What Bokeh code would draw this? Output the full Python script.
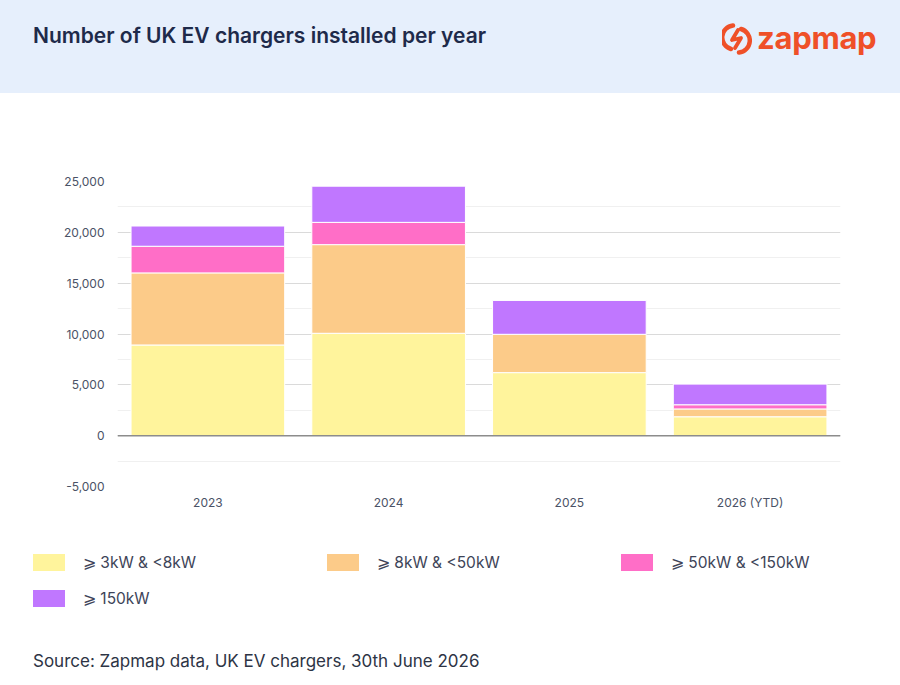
from bokeh.plotting import figure
from bokeh.layouts import column
from bokeh.models import (NumeralTickFormatter, FixedTicker, Span, ColumnDataSource,
                          FactorRange, Div)
from bokeh.embed import file_html
from bokeh.resources import INLINE

# ---- data ----
years = ["2023", "2024", "2025", "2026 (YTD)"]
kw3_8 = [8920, 10070, 6200, 1860]
kw8_50 = [7090, 8720, 3770, 770]
kw50_150 = [2620, 2190, -80, 410]
kw150 = [1990, 3560, 3330, 2030]
series_names = ["⩾ 3kW & <8kW", "⩾ 8kW & <50kW", "⩾ 50kW & <150kW", "⩾ 150kW"]
series_colors = ["#FFF49C", "#FCCB89", "#FF6EC7", "#C077FF"]
y_ticks = [-5000, 0, 5000, 10000, 15000, 20000, 25000]
y_minor = [-2500, 2500, 7500, 12500, 17500, 22500]

title_text = "Number of UK EV chargers installed per year"
source_text = "Source: Zapmap data, UK EV chargers, 30th June 2026"
FONT = "Inter"
W = 900


def esc(s):
    return s.replace("&", "&amp;").replace("<", "&lt;").replace(">", "&gt;")


# ---- header band ----
logo_svg = (
    '<svg width="30" height="36" viewBox="0 0 30 36" style="position:absolute;left:722px;top:21px">'
    '<path d="M11 4.5 A12 12 0 0 0 9 28" fill="none" stroke="#EF5028" stroke-width="4.5" stroke-linecap="round"/>'
    '<path d="M19 8 A12 12 0 0 1 17 31.5" fill="none" stroke="#EF5028" stroke-width="4.5" stroke-linecap="round"/>'
    '<path d="M16 9 L10 19 L19 17 L13 27" fill="none" stroke="#EF5028" stroke-width="3.8" '
    'stroke-linejoin="round" stroke-linecap="round"/>'
    '</svg>'
)
header_html = (
    f'<div style="position:relative;width:{W}px;height:93px;background:#E6EFFC;font-family:{FONT};">'
    f'<span style="position:absolute;left:33px;top:23px;font-size:21px;line-height:26px;font-weight:600;'
    f'color:#1E2A4A;white-space:nowrap;">{esc(title_text)}</span>'
    f'{logo_svg}'
    f'<span style="position:absolute;left:757px;top:20px;font-size:31px;line-height:36px;font-weight:700;'
    f'color:#EF5028;white-space:nowrap;letter-spacing:-0.3px;">zapmap</span>'
    '</div>'
)
header = Div(text=header_html, width=W, height=93, margin=0)

# ---- main chart ----
p = figure(width=W, height=432, x_range=FactorRange(*years, range_padding=0),
           y_range=(-5000, 25000), toolbar_location=None, output_backend="svg",
           min_border_top=88, min_border_bottom=39, min_border_left=117, min_border_right=60)
p.outline_line_color = None
p.background_fill_color = "white"
p.border_fill_color = "white"

series = [kw3_8, kw8_50, kw50_150, kw150]
pos_base = [0] * len(years)
neg_base = [0] * len(years)
for vals, name, col in zip(series, series_names, series_colors):
    bottoms, tops = [], []
    for i, v in enumerate(vals):
        if v >= 0:
            bottoms.append(pos_base[i]); tops.append(pos_base[i] + v); pos_base[i] += v
        else:
            tops.append(neg_base[i]); bottoms.append(neg_base[i] + v); neg_base[i] += v
    src = ColumnDataSource(dict(x=years, bottom=bottoms, top=tops))
    p.vbar(x="x", bottom="bottom", top="top", width=0.85, source=src,
           fill_color=col, line_color="white", line_width=1)

p.yaxis.ticker = FixedTicker(ticks=y_ticks, minor_ticks=y_minor)
p.yaxis.formatter = NumeralTickFormatter(format="0,0")
for ax in (p.xaxis[0], p.yaxis[0]):
    ax.axis_line_color = None
    ax.major_tick_line_color = None
    ax.minor_tick_line_color = None
    ax.major_label_text_font = FONT
    ax.major_label_text_font_size = "12px"
    ax.major_label_text_color = "#4A5266"
p.yaxis.major_label_standoff = 7
p.xaxis.major_label_standoff = 2
p.xgrid.grid_line_color = None
p.ygrid.grid_line_color = "#DADADA"
p.ygrid.grid_line_width = 1
p.ygrid.minor_grid_line_color = "#F0F0F0"
p.ygrid.minor_grid_line_width = 1
p.add_layout(Span(location=0, dimension="width", line_color="#8C8C8C", line_width=1.5))

# ---- legend + source (footer) ----
items = []
for i, (n, c) in enumerate(zip(series_names, series_colors)):
    left = 33 + 294 * (i % 3)
    top = 29 + 36 * (i // 3)
    items.append(
        f'<div style="position:absolute;left:{left}px;top:{top}px;width:32px;height:17px;background:{c};"></div>'
        f'<span style="position:absolute;left:{left + 50}px;top:{top - 2}px;font-size:15.5px;line-height:21px;'
        f'color:#3D4458;white-space:nowrap;">{esc(n)}</span>'
    )
footer_html = (
    f'<div style="position:relative;width:{W}px;height:160px;font-family:{FONT};">'
    + "".join(items)
    + f'<span style="position:absolute;left:33px;top:125px;font-size:17px;line-height:22px;color:#2D3445;'
      f'white-space:nowrap;">{esc(source_text)}</span></div>'
)
footer = Div(text=footer_html, width=W, height=160, margin=0)

layout = column(header, p, footer, spacing=0)
open("out.html", "w").write(file_html(layout, INLINE))
